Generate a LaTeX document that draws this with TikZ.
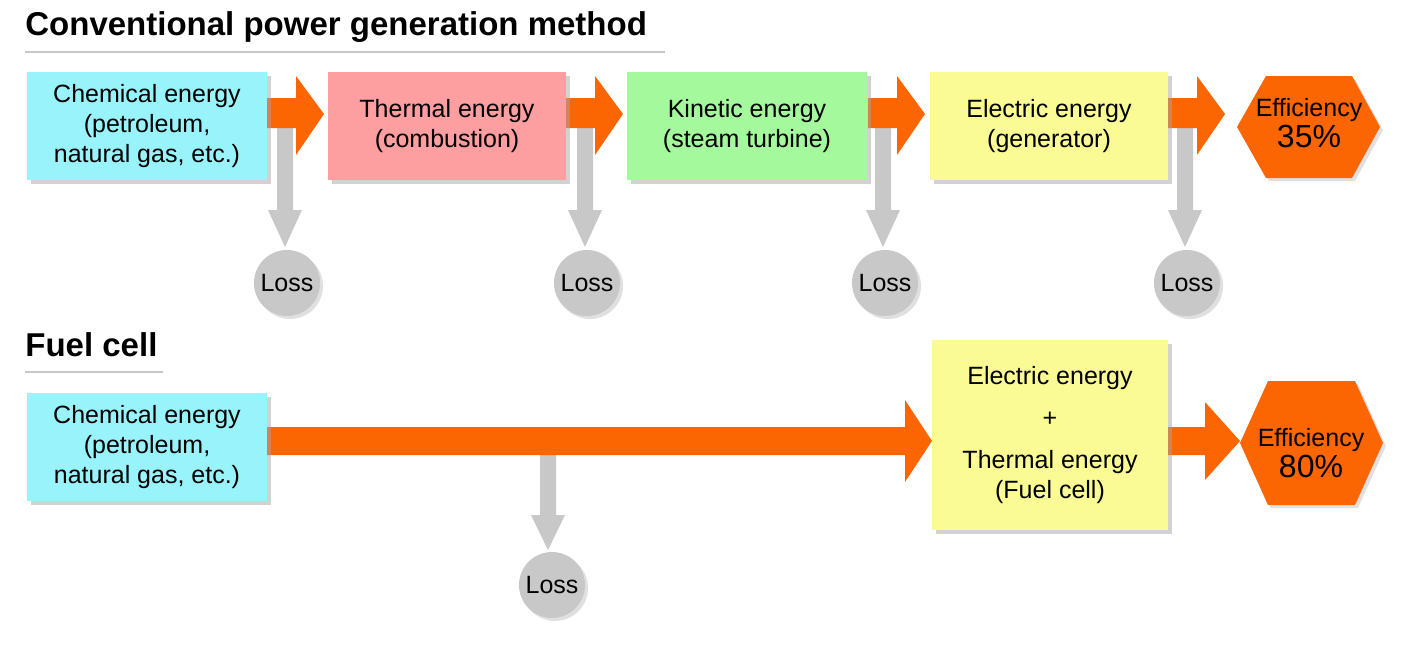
\documentclass[tikz,border=0pt]{standalone}
\usepackage{fontspec}
\setmainfont{Liberation Sans}
\usetikzlibrary{shadows}
\definecolor{cy}{HTML}{99F3FB}
\definecolor{pk}{HTML}{FD9EA0}
\definecolor{gr}{HTML}{A4F99D}
\definecolor{yl}{HTML}{FBFB95}
\definecolor{og}{HTML}{FB6502}
\definecolor{lg}{HTML}{C8C8C8}
\begin{document}
\begin{tikzpicture}[x=0.5pt,y=-0.5pt,
 box/.style={draw=none,inner sep=0,align=center,font=\fontsize{12.5}{15}\selectfont,
   drop shadow={shadow xshift=2pt,shadow yshift=-2pt,fill=black!35,opacity=0.5}},
 loss/.style={circle,fill=lg,minimum size=33pt,inner sep=0,font=\fontsize{12.5}{15}\selectfont,
   drop shadow={shadow xshift=1.5pt,shadow yshift=-1.5pt,fill=black!30,opacity=0.4}},
 title/.style={anchor=west,inner sep=0,font=\bfseries\fontsize{16.5}{19}\selectfont}]
\useasboundingbox (0,0) rectangle (1413,648);
% titles
\node[title] (t1) at (25,27) {Conventional power generation method};
\draw[lg,line width=1pt] (25,52) -- (665,52);
\node[title] (t2) at (25,345) {Fuel cell};
\draw[lg,line width=1pt] (25,372) -- (163,372);
% gray loss arrows (behind)
\foreach \x/\n in {285/1,585/2,883/3,1185/4}{
  \fill[lg] (\x-8,128) -- (\x+8,128) -- (\x+8,210) -- (\x+17,210) -- (\x,247) -- (\x-17,210) -- (\x-8,210) -- cycle;
  \node[loss] (l\n) at (\x+2,283) {Loss};
}
\fill[lg] (540,455) -- (556,455) -- (556,515) -- (565,515) -- (548,550) -- (531,515) -- (540,515) -- cycle;
\node[loss] (l5) at (552,585) {Loss};
% orange arrows row 1
\foreach \a in {267,566,868,1168}{
  \fill[og] (\a,98) -- (\a+29,98) -- (\a+29,76) -- (\a+57,114) -- (\a+29,155) -- (\a+29,128) -- (\a,128) -- cycle;
}
% boxes row 1
\node[box,fill=cy,minimum width=120pt,minimum height=54pt] (b1) at (147,126) {Chemical energy\\(petroleum,\\natural gas, etc.)};
\node[box,fill=pk,minimum width=119pt,minimum height=54pt] (b2) at (447,126) {Thermal energy\\(combustion)};
\node[box,fill=gr,minimum width=120pt,minimum height=54pt] (b3) at (747,126) {Kinetic energy\\(steam turbine)};
\node[box,fill=yl,minimum width=119pt,minimum height=54pt] (b4) at (1049,126) {Electric energy\\(generator)};
\fill[og,drop shadow={shadow xshift=1.5pt,shadow yshift=-1.5pt,fill=black!30,opacity=0.4}] (1237,127) -- (1266,76) -- (1352,76) -- (1380,127) -- (1352,178) -- (1266,178) -- cycle;
\node[align=center,inner sep=0] (e1) at (1309,123) {\fontsize{12.5}{15}\selectfont Efficiency\\[1pt]\fontsize{16}{18}\selectfont 35\%};
% row 2 arrows
\fill[og] (267,427) -- (905,427) -- (905,400) -- (932,441) -- (905,482) -- (905,455) -- (267,455) -- cycle;
\fill[og] (1168,427) -- (1205,427) -- (1205,402) -- (1240,441) -- (1205,480) -- (1205,455) -- (1168,455) -- cycle;
\node[box,fill=cy,minimum width=120pt,minimum height=54pt] (c1) at (147,447) {Chemical energy\\(petroleum,\\natural gas, etc.)};
\node[box,fill=yl,minimum width=118pt,minimum height=95pt] (c2) at (1050,435) {Electric energy\\[6pt]+\\[6pt]Thermal energy\\(Fuel cell)};
\fill[og,drop shadow={shadow xshift=1.5pt,shadow yshift=-1.5pt,fill=black!30,opacity=0.4}] (1240,443) -- (1268,381) -- (1355,381) -- (1383,443) -- (1355,505) -- (1268,505) -- cycle;
\node[align=center,inner sep=0] (e2) at (1311,453) {\fontsize{12.5}{15}\selectfont Efficiency\\[1pt]\fontsize{16}{18}\selectfont 80\%};
\end{tikzpicture}
\end{document}
